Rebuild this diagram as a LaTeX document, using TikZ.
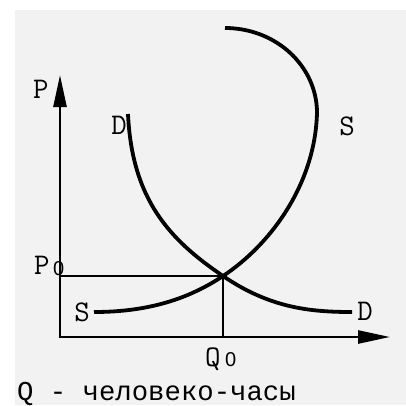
\documentclass[tikz,border=0pt]{standalone}
\usepackage{fontspec}
\usetikzlibrary{arrows.meta}
\newfontfamily\notefont{Liberation Mono}
\newfontfamily\digitfont{Liberation Sans}
\definecolor{paperc}{HTML}{F2F2F2}
\tikzset{
  curve/.style={line width=3.8pt},
  axis/.style={line width=2.6pt, line cap=rect, -{Triangle[length=32pt,width=13pt]}},
  guide/.style={line width=1.4pt},
  lbl/.style={inner sep=0pt, anchor=base, font=\ttfamily\fontsize{30}{30}\selectfont},
  axlbl/.style={lbl, anchor=base west},
  zero/.style={inner sep=0pt, anchor=base west, font=\digitfont\fontsize{20}{20}\selectfont},
  note/.style={inner sep=0pt, anchor=base west, font=\notefont\fontsize{27.3}{27.3}\selectfont}
}

\begin{document}
\begin{tikzpicture}[x=1pt, y=-1pt]
  \useasboundingbox (0,0) rectangle (406,405);
  \fill[paperc] (15,10) rectangle (406,405);
  % axes and equilibrium
  \coordinate (O) at (60,337);
  \coordinate (Ptop) at (60,75);
  \coordinate (Qend) at (390,337);
  \coordinate (E) at (223,276);
  \coordinate (P0pt) at (60,276);
  \coordinate (Q0pt) at (223,337);
  \draw[guide] (P0pt) -- (E) -- (Q0pt);
  \draw[axis] (O) -- (Ptop);
  \draw[axis] (O) -- (Qend);
  % demand
  \coordinate (Dtop) at (128,114);
  \coordinate (Dend) at (352,312);
  \draw[curve] (Dtop) .. controls (132,200) and (170,240) .. (E)
    .. controls (270,308) and (310,312) .. (Dend);
  % backward-bending supply
  \coordinate (Sstart) at (94,312);
  \coordinate (Sturn) at (317,113);
  \coordinate (Stop) at (225,28);
  \draw[curve] (Sstart) .. controls (150,312) and (190,298) .. (E)
    .. controls (270,245) and (315,185) .. (Sturn)
    .. controls (317,66) and (276,28) .. (Stop);
  % labels
  \node[axlbl] (lP) at (33,98) {P};
  \node[lbl] (lD1) at (119,134) {D};
  \node[lbl] (lS1) at (347,135) {S};
  \node[lbl] (lS2) at (82,321) {S};
  \node[lbl] (lD2) at (365,320) {D};
  \node[axlbl] (lP0) at (34,274) {P};
  \node[zero] (lP0i) at (53,275) {0};
  \node[axlbl] (lQ0) at (205,366) {Q};
  \node[zero] (lQ0i) at (225,366) {0};
  \node[note] (lQ) at (17,400) {Q - человеко-часы};
\end{tikzpicture}
\end{document}
